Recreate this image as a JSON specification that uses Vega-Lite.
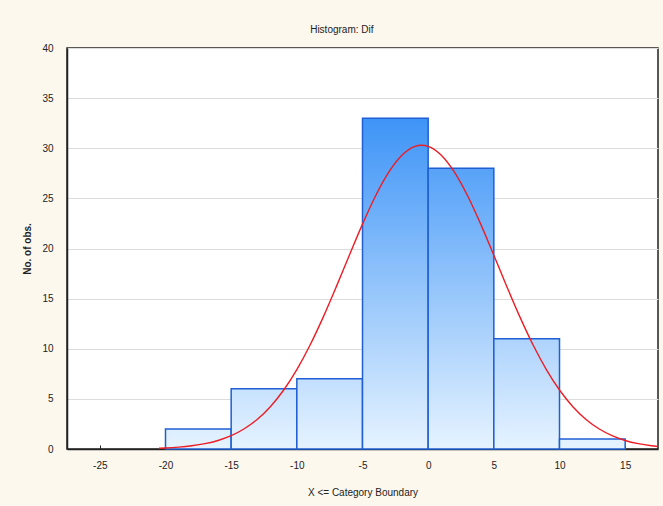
{
  "$schema": "https://vega.github.io/schema/vega-lite/v6.json",
  "width": 591,
  "height": 401,
  "autosize": "none",
  "padding": {"left": 67, "top": 48, "right": 5, "bottom": 57},
  "background": "#fdf8ee",
  "config": {
    "view": {"fill": "white", "stroke": "#222", "strokeWidth": 1.5},
    "font": "Liberation Sans"
  },
  "title": {
    "text": "Histogram: Dif",
    "fontSize": 10,
    "fontWeight": "normal",
    "color": "#222",
    "anchor": "middle",
    "frame": "bounds",
    "offset": 8
  },
  "datasets": {
    "bins": [
      {"lo": -20, "hi": -15, "count": 2},
      {"lo": -15, "hi": -10, "count": 6},
      {"lo": -10, "hi": -5, "count": 7},
      {"lo": -5, "hi": 0, "count": 33},
      {"lo": 0, "hi": 5, "count": 28},
      {"lo": 5, "hi": 10, "count": 11},
      {"lo": 10, "hi": 15, "count": 1}
    ],
    "curve": [
      {"x": -20.5, "y": 0.079},
      {"x": -20, "y": 0.106},
      {"x": -19, "y": 0.187},
      {"x": -18, "y": 0.32},
      {"x": -17, "y": 0.53},
      {"x": -16, "y": 0.852},
      {"x": -15, "y": 1.331},
      {"x": -14, "y": 2.018},
      {"x": -13, "y": 2.97},
      {"x": -12, "y": 4.244},
      {"x": -11, "y": 5.885},
      {"x": -10, "y": 7.924},
      {"x": -9, "y": 10.35},
      {"x": -8, "y": 13.13},
      {"x": -7, "y": 16.17},
      {"x": -6, "y": 19.33},
      {"x": -5, "y": 22.43},
      {"x": -4, "y": 25.26},
      {"x": -3, "y": 27.61},
      {"x": -2, "y": 29.3},
      {"x": -1, "y": 30.19},
      {"x": -0.5, "y": 30.3},
      {"x": 0, "y": 30.19},
      {"x": 1, "y": 29.3},
      {"x": 2, "y": 27.61},
      {"x": 3, "y": 25.26},
      {"x": 4, "y": 22.43},
      {"x": 5, "y": 19.33},
      {"x": 6, "y": 16.17},
      {"x": 7, "y": 13.13},
      {"x": 8, "y": 10.35},
      {"x": 9, "y": 7.924},
      {"x": 10, "y": 5.885},
      {"x": 11, "y": 4.244},
      {"x": 12, "y": 2.97},
      {"x": 13, "y": 2.018},
      {"x": 14, "y": 1.331},
      {"x": 15, "y": 0.852},
      {"x": 16, "y": 0.53},
      {"x": 17, "y": 0.32},
      {"x": 17.5, "y": 0.245}
    ]
  },
  "layer": [
    {
      "data": {"name": "bins"},
      "mark": {"type": "bar", "stroke": "#1f5fd3", "strokeWidth": 1.5},
      "encoding": {
        "x": {
          "field": "lo",
          "type": "quantitative",
          "scale": {"domain": [-27.5, 17.5], "nice": false, "zero": false},
          "axis": {
            "values": [-25, -20, -15, -10, -5, 0, 5, 10, 15],
            "labelExpr": "replace(datum.label, '\u2212', '-')",
            "title": "X <= Category Boundary",
            "titleFontSize": 10,
            "titleFontWeight": "normal",
            "titleColor": "#222",
            "titlePadding": 17,
            "labelFontSize": 10,
            "labelColor": "#222",
            "labelPadding": 15,
            "ticks": true,
            "tickSize": -4,
            "tickColor": "#222",
            "domainColor": "#222",
            "domainWidth": 1.5,
            "grid": false
          }
        },
        "x2": {"field": "hi"},
        "y": {
          "field": "count",
          "type": "quantitative",
          "scale": {"domain": [0, 40], "nice": false},
          "axis": {
            "values": [0, 5, 10, 15, 20, 25, 30, 35, 40],
            "title": "No. of obs.",
            "titleFontSize": 10,
            "titleFontWeight": "bold",
            "titleColor": "#222",
            "titlePadding": 9,
            "labelFontSize": 10,
            "labelColor": "#222",
            "labelPadding": 14,
            "ticks": false,
            "domainColor": "#222",
            "domainWidth": 1.5,
            "grid": true,
            "gridColor": "#dcdcdc",
            "gridWidth": 1.2
          }
        },
        "y2": {"datum": 0},
        "fill": {
          "value": {
            "expr": "{gradient: 'linear', x1: 0, x2: 0, y1: 1, y2: 1 - 40 / datum.count, stops: [{offset: 0, color: '#e6f3ff'}, {offset: 1, color: '#1a80f5'}]}"
          }
        }
      }
    },
    {
      "data": {"name": "curve"},
      "mark": {"type": "line", "color": "#ee1c24", "strokeWidth": 1.4, "interpolate": "monotone"},
      "encoding": {
        "x": {"field": "x", "type": "quantitative"},
        "y": {"field": "y", "type": "quantitative"}
      }
    }
  ]
}
